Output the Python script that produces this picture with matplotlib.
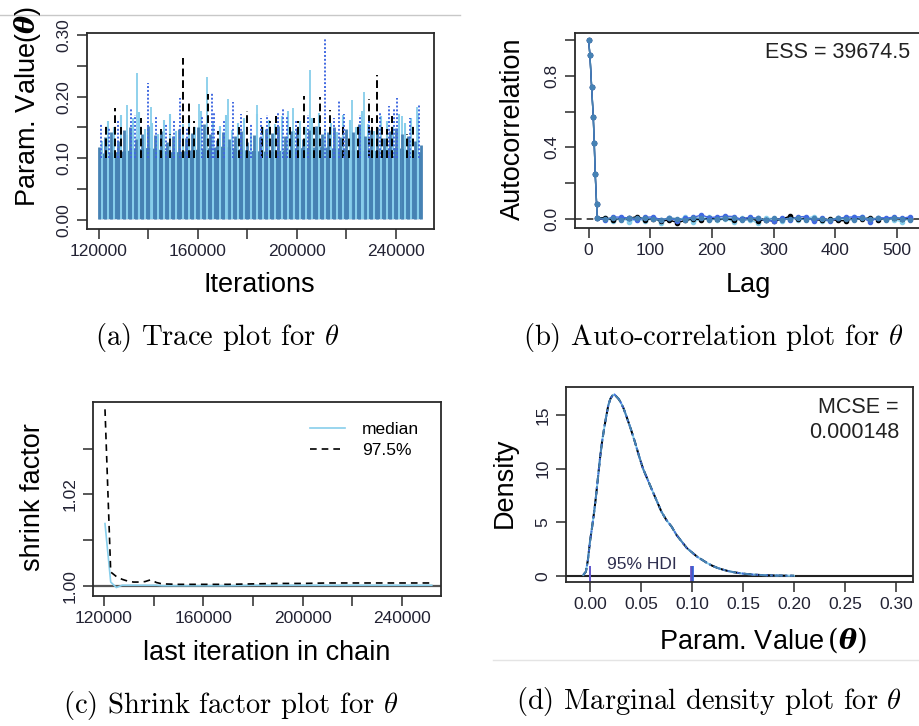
import numpy as np
import matplotlib
matplotlib.use("Agg")
import matplotlib.pyplot as plt

plt.rcParams['font.family'] = ['Liberation Sans', 'DejaVu Sans']

# chain colours (DBDA style)
chain_cols = ["skyblue", "black", "royalblue", "steelblue"]

# ---- (a) trace plot data ----
# solid steelblue core of the trace (level every 10000 iterations)
core_level = [0.108, 0.112, 0.118, 0.110, 0.115, 0.120, 0.113, 0.111, 0.117, 0.119, 0.114, 0.112, 0.118, 0.110]
# steelblue chain block maxima (every 2500 iterations)
steel_top = [0.118, 0.135, 0.142, 0.128, 0.146, 0.150, 0.131, 0.140, 0.152, 0.138,
             0.144, 0.126, 0.136, 0.148, 0.133, 0.141, 0.150, 0.156, 0.139, 0.129,
             0.143, 0.131, 0.137, 0.145, 0.127, 0.138, 0.134, 0.147, 0.141, 0.152,
             0.136, 0.144, 0.149, 0.132, 0.146, 0.153, 0.139, 0.143, 0.150, 0.135,
             0.148, 0.142, 0.155, 0.137, 0.146, 0.151, 0.133, 0.144, 0.149, 0.139,
             0.136, 0.128, 0.121]
# skyblue chain block maxima (between the steelblue ones)
sky_top = [0.128, 0.160, 0.150, 0.170, 0.138, 0.165, 0.175, 0.148, 0.158, 0.140,
           0.162, 0.172, 0.145, 0.155, 0.168, 0.150, 0.176, 0.142, 0.160, 0.152,
           0.170, 0.146, 0.158, 0.165, 0.140, 0.172, 0.150, 0.162, 0.155, 0.168,
           0.176, 0.145, 0.160, 0.150, 0.166, 0.174, 0.148, 0.158, 0.142, 0.170,
           0.162, 0.150, 0.176, 0.155, 0.145, 0.168, 0.160, 0.150, 0.172, 0.158,
           0.165, 0.170]
# taller excursions per chain: iteration, value
sky_sp_iter = [131470, 135390, 141190, 160360, 163460, 172230, 183700, 198560, 205300, 222180, 226900, 242430, 248500]
sky_sp_val = [0.186, 0.239, 0.183, 0.188, 0.232, 0.196, 0.186, 0.181, 0.243, 0.195, 0.208, 0.169, 0.184]
blk_sp_iter = [122970, 126340, 129000, 137000, 145000, 148500, 153880, 156300, 158500, 164140,
               168000, 176500, 179660, 186000, 189000, 191540, 197000, 200500, 203000, 207000,
               209200, 213400, 218500, 221000, 224500, 228930, 230500, 232300, 234500, 236500,
               238380, 244500, 247000]
blk_sp_val = [0.157, 0.181, 0.150, 0.165, 0.147, 0.140, 0.262, 0.195, 0.160, 0.204,
              0.145, 0.150, 0.177, 0.155, 0.160, 0.169, 0.150, 0.160, 0.201, 0.165,
              0.199, 0.179, 0.150, 0.138, 0.158, 0.196, 0.165, 0.235, 0.150, 0.148,
              0.169, 0.140, 0.155]
roy_sp_iter = [120940, 124000, 127500, 132820, 134500, 139840, 143000, 147000, 150500, 152660,
               155500, 161500, 165490, 166500, 170500, 174260, 177500, 181500, 185500, 188000,
               192500, 194240, 196000, 199500, 204500, 211380, 215000, 216780, 219000, 225500,
               229000, 233500, 237030, 239000, 240400, 245500, 249180]
roy_sp_val = [0.157, 0.150, 0.162, 0.182, 0.170, 0.222, 0.168, 0.155, 0.162, 0.197,
              0.150, 0.168, 0.208, 0.175, 0.160, 0.192, 0.172, 0.158, 0.165, 0.170,
              0.175, 0.181, 0.168, 0.160, 0.170, 0.293, 0.165, 0.195, 0.172, 0.170,
              0.160, 0.175, 0.185, 0.180, 0.197, 0.165, 0.186]

# ---- (b) autocorrelation data ----
acf_head_lag = [0, 2.2, 4.9, 7.6, 9.2, 10.8, 13.0, 14.0]
acf_head_val = [1.0, 0.916, 0.74, 0.572, 0.424, 0.251, 0.085, 0.006]
acf_tail_lag = [27, 40, 53, 66, 79, 92, 105, 118, 131, 144, 157, 170, 183, 196, 209, 222,
                235, 248, 261, 274, 287, 300, 313, 326, 339, 352, 365, 378, 391, 404, 417,
                430, 443, 456, 469, 482, 495, 508, 521]
acf_sky = [0.005, -0.010, 0.008, -0.015, 0.002, -0.012, 0.006, -0.020, 0.004, -0.008,
           0.012, -0.018, 0.003, 0.010, -0.006, 0.000, -0.015, 0.008, -0.004, -0.022,
           0.005, 0.002, -0.010, 0.011, -0.005, 0.003, 0.014, -0.012, -0.008, 0.006,
           -0.004, 0.010, 0.012, -0.006, 0.004, 0.002, -0.003, -0.015, 0.005]
acf_blk = [0.008, -0.006, 0.002, 0.004, 0.014, -0.004, 0.003, -0.010, -0.006, -0.020,
           -0.008, 0.002, -0.004, 0.005, -0.002, 0.004, -0.006, 0.002, 0.006, -0.010,
           -0.004, -0.012, 0.000, 0.015, -0.002, 0.006, -0.004, -0.006, -0.002, -0.008,
           -0.010, 0.004, -0.002, 0.008, -0.004, 0.002, 0.004, -0.002, 0.002]
acf_roy = [-0.004, 0.012, 0.010, 0.006, -0.008, 0.010, 0.012, -0.006, 0.008, -0.012,
           0.004, 0.010, 0.022, 0.008, 0.012, 0.016, 0.014, -0.002, 0.010, 0.004,
           -0.008, -0.010, 0.004, -0.004, 0.012, 0.014, -0.012, 0.006, -0.012, 0.004,
           0.010, 0.012, 0.012, -0.016, 0.008, 0.006, 0.010, 0.004, 0.012]
acf_stl = [0.002, 0.004, -0.004, 0.008, 0.004, 0.006, -0.002, -0.004, 0.006, 0.002,
           -0.004, 0.006, 0.004, -0.006, 0.002, 0.006, 0.004, -0.008, -0.002, 0.004,
           -0.006, 0.004, -0.006, 0.002, 0.004, -0.004, 0.004, 0.002, -0.004, 0.006,
           0.002, -0.006, 0.004, 0.002, 0.004, -0.004, 0.006, 0.002, -0.004]
ess_text = "ESS = 39674.5"

# ---- (c) shrink factor data ----
shrink_iter = [120400, 122700, 125000, 127300, 129600, 131900, 134200, 136500, 138800, 141100,
               143400, 150000, 160000, 170000, 180000, 190000, 200000, 210000, 220000, 230000,
               240000, 252000]
shrink_med = [1.0136, 1.0008, 0.9996, 1.0001, 1.0001, 1.0001, 1.0001, 1.0001, 1.0001, 1.0001,
              1.0000, 1.0000, 1.0000, 1.0000, 1.0001, 1.0001, 1.0001, 1.0001, 1.0001, 1.0001,
              1.0001, 1.0001]
shrink_975 = [1.0386, 1.0030, 1.0020, 1.0014, 1.0010, 1.0008, 1.0008, 1.0009, 1.0013, 1.0007,
              1.0004, 1.0003, 1.0003, 1.0003, 1.0004, 1.0005, 1.0005, 1.0006, 1.0006, 1.0006,
              1.0006, 1.0006]

# ---- (d) marginal density data ----
dens_x = [-0.0065, -0.004, -0.002, 0.0, 0.002, 0.004, 0.006, 0.008, 0.010, 0.012, 0.014,
          0.016, 0.018, 0.020, 0.022, 0.024, 0.026, 0.028, 0.030, 0.033, 0.036, 0.040,
          0.044, 0.048, 0.052, 0.056, 0.060, 0.065, 0.070, 0.075, 0.080, 0.085, 0.090,
          0.095, 0.100, 0.105, 0.110, 0.115, 0.120, 0.125, 0.130, 0.135, 0.140, 0.145,
          0.150, 0.160, 0.170, 0.180, 0.190, 0.200]
dens_y = [0.1, 0.4, 1.5, 3.2, 4.5, 5.9, 7.5, 9.3, 11.1, 12.6, 13.8, 14.9, 15.9, 16.5, 16.8,
          16.9, 16.7, 16.5, 16.2, 15.6, 14.8, 13.7, 12.5, 11.2, 10.0, 9.1, 8.2, 7.1, 6.0,
          5.2, 4.6, 3.8, 3.2, 2.6, 2.2, 1.8, 1.5, 1.2, 0.95, 0.75, 0.6, 0.47, 0.37, 0.29,
          0.22, 0.13, 0.08, 0.05, 0.03, 0.02]
hdi_low = [0.0005, 0.0, 0.0003, 0.0002]
hdi_high = [0.1003, 0.0998, 0.1006, 0.0995]
mcse_text = "MCSE =\n0.000148"

W, H = 920, 726
fig = plt.figure(figsize=(W / 100, H / 100), dpi=100)


def fx(px):
    return px / W


def fy(py):
    return 1 - py / H


def style_axes(ax):
    for s in ax.spines.values():
        s.set_linewidth(1.3)
        s.set_color("#2a2a2a")
    ax.tick_params(direction="out", length=7, width=1.1, color="#2a2a2a",
                   labelsize=12.5, labelcolor="#222233", pad=4)


lab_font = 19.5

# ---------------- (a) trace ----------------
ax = fig.add_axes([fx(87), fy(229), fx(434 - 87), (229 - 33) / H])
steel_x = np.linspace(120000, 250000, len(steel_top))
sky_x = (steel_x[:-1] + steel_x[1:]) / 2
core_x = np.linspace(120000, 250000, len(core_level))
ax.vlines(sky_x, 0.002, sky_top, colors="skyblue", lw=1.5)
ax.vlines(sky_sp_iter, 0.002, sky_sp_val, colors="skyblue", lw=1.3)
ax.fill_between(core_x, 0.002, core_level, color="steelblue", lw=0)
ax.vlines(steel_x, 0.002, steel_top, colors="steelblue", lw=2.0)
# darker chains peek out above the steelblue core
ax.vlines(blk_sp_iter, 0.10, blk_sp_val, colors="black", lw=1.4, linestyles=(0, (4, 2)))
ax.vlines(roy_sp_iter, 0.10, roy_sp_val, colors="royalblue", lw=1.4, linestyles=(0, (1, 1)))
ax.set_xlim(115152, 255354)
ax.set_ylim(-0.0146, 0.3032)
ax.set_xticks([120000, 140000, 160000, 180000, 200000, 220000, 240000])
ax.set_xticklabels(["120000", "", "160000", "", "200000", "", "240000"])
ax.set_yticks([0.0, 0.05, 0.10, 0.15, 0.20, 0.25, 0.30])
ax.set_yticklabels(["0.00", "", "0.10", "", "0.20", "", "0.30"], rotation=90, va="center")
style_axes(ax)
fig.text(fx(28), fy(107), r"Param. Value($\boldsymbol{\theta}$)", rotation=90,
         ha="center", va="center", fontsize=lab_font, math_fontfamily="dejavuserif")
fig.text(fx(259), fy(285), "Iterations", ha="center", va="center", fontsize=lab_font)

# ---------------- (b) autocorrelation ----------------
ax = fig.add_axes([fx(575), fy(228), fx(346), (228 - 33) / H])
ax.axhline(0, color="#333333", lw=1.2, ls=(0, (4, 3)))
for col, tail in zip(chain_cols, [acf_sky, acf_blk, acf_roy, acf_stl]):
    ax.plot(acf_head_lag + acf_tail_lag, acf_head_val + tail, color=col, lw=1.0,
            marker="o", ms=3.0, mec=col)
ax.set_xlim(-22, 539)
ax.set_ylim(-0.050, 1.039)
ax.set_xticks([0, 100, 200, 300, 400, 500])
ax.set_yticks([0.0, 0.2, 0.4, 0.6, 0.8, 1.0])
ax.set_yticklabels(["0.0", "", "0.4", "", "0.8", ""], rotation=90, va="center")
style_axes(ax)
ax.text(fx(910), fy(52), ess_text, transform=fig.transFigure, ha="right", va="center",
        fontsize=15.5, color="#222222")
fig.text(fx(513), fy(129), "Autocorrelation", rotation=90, ha="center", va="center",
         fontsize=lab_font)
fig.text(fx(748), fy(285), "Lag", ha="center", va="center", fontsize=lab_font)

# ---------------- (c) shrink factor ----------------
ax = fig.add_axes([fx(93), fy(596), fx(441 - 93), (596 - 402) / H])
ax.axhline(1.0, color="#555555", lw=1.6)
ax.plot(shrink_iter, shrink_med, color="skyblue", lw=1.2, label="median")
ax.plot(shrink_iter, shrink_975, color="black", lw=1.2, ls=(0, (4, 3)), label="97.5%")
ax.set_xlim(115570, 255700)
ax.set_ylim(0.99775, 1.0402)
ax.set_xticks([120000, 140000, 160000, 180000, 200000, 220000, 240000])
ax.set_xticklabels(["120000", "", "160000", "", "200000", "", "240000"])
ax.set_yticks([1.00, 1.01, 1.02, 1.03])
ax.set_yticklabels(["1.00", "", "1.02", ""], rotation=90, va="center")
style_axes(ax)
ax.legend(loc="upper left", bbox_to_anchor=(fx(310), fy(422)), bbox_transform=fig.transFigure,
          frameon=False, fontsize=12.5, handlelength=2.0, handletextpad=1.0,
          labelspacing=0.35, borderpad=0, borderaxespad=0)
fig.text(fx(33), fy(497), "shrink factor", rotation=90, ha="center", va="center",
         fontsize=lab_font)
fig.text(fx(267), fy(653), "last iteration in chain", ha="center", va="center",
         fontsize=lab_font)

# ---------------- (d) marginal density ----------------
ax = fig.add_axes([fx(566), fy(582), fx(913 - 566), (582 - 387) / H])
ax.axhline(0, color="#222222", lw=1.5)
dens_styles = ["-", (0, (4, 2)), (0, (1, 1.5)), (0, (4, 1.5, 1, 1.5))]
for col, ls in zip(chain_cols, dens_styles):
    ax.plot(dens_x, dens_y, color=col, lw=1.4, ls=ls)
hdi_cols = ["deepskyblue", "black", "royalblue", "slateblue"]
for lo, hi, col in zip(hdi_low, hdi_high, hdi_cols):
    ax.vlines([lo, hi], -0.6, 0.9, colors=col, lw=1.3)
ax.text(0.0505, 0.35, "95% HDI", ha="center", va="bottom", fontsize=12.5, color="#2e2e4e")
ax.set_xlim(-0.0235, 0.3167)
ax.set_ylim(-0.56, 17.6)
ax.set_xticks([0.0, 0.05, 0.10, 0.15, 0.20, 0.25, 0.30])
ax.set_xticklabels(["0.00", "0.05", "0.10", "0.15", "0.20", "0.25", "0.30"])
ax.set_yticks([0, 5, 10, 15])
ax.set_yticklabels(["0", "5", "10", "15"], rotation=90, va="center")
style_axes(ax)
ax.text(fx(899), fy(420), mcse_text, transform=fig.transFigure, ha="right", va="center",
        fontsize=15.5, color="#222222", linespacing=1.2)
fig.text(fx(505), fy(483), "Density", rotation=90, ha="center", va="center",
         fontsize=lab_font)
fig.text(fx(763), fy(640), r"Param. Value$\,(\boldsymbol{\theta})$", ha="center",
         va="center", fontsize=lab_font, math_fontfamily="dejavuserif")

# page rules
fig.add_artist(plt.Line2D([0, fx(460)], [fy(15), fy(15)], color="#c8c8c8", lw=1))
fig.add_artist(plt.Line2D([fx(493), 1], [fy(660), fy(660)], color="#e4e4e4", lw=1))

# captions
cap_kw = dict(ha="center", va="center", fontsize=20.6, family="cmr10", math_fontfamily="cm")
fig.text(fx(217), fy(338), r"(a) Trace plot for $\theta$", **cap_kw)
fig.text(fx(713), fy(338), r"(b) Auto-correlation plot for $\theta$", **cap_kw)
fig.text(fx(231), fy(705), r"(c) Shrink factor plot for $\theta$", **cap_kw)
fig.text(fx(709), fy(701), r"(d) Marginal density plot for $\theta$", **cap_kw)

fig.savefig("out.png", dpi=100)
